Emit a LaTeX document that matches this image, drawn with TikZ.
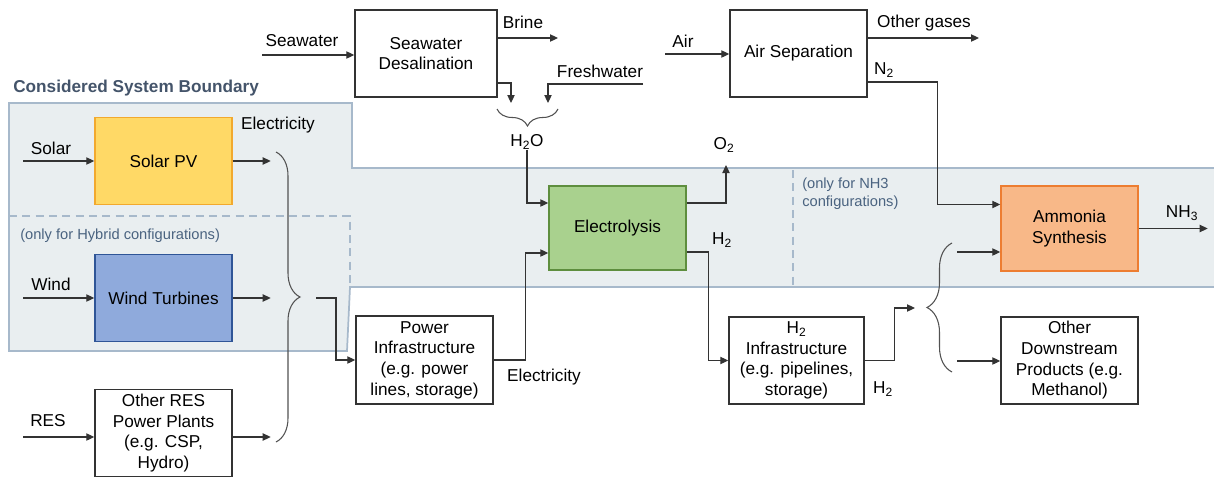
\documentclass[tikz,border=0pt]{standalone}
\usepackage{fontspec}
\setmainfont{Liberation Sans}
\usetikzlibrary{arrows.meta,calc,decorations.pathreplacing}
\newcommand\dfont{\fontsize{12.9}{15.5}\selectfont}
\newcommand\sfont{\fontsize{11}{13.5}\selectfont}
\definecolor{bandfill}{HTML}{E9EEF0}
\definecolor{bandline}{HTML}{A7B9CB}
\definecolor{slate}{HTML}{44546A}
\definecolor{notec}{HTML}{4A6380}
\definecolor{solarfill}{HTML}{FFD966}
\definecolor{solarline}{HTML}{F2A92E}
\definecolor{windfill}{HTML}{8FAADC}
\definecolor{windline}{HTML}{2F5597}
\definecolor{elecfill}{HTML}{A9D18E}
\definecolor{elecline}{HTML}{5E8E3E}
\definecolor{ammfill}{HTML}{F8B888}
\definecolor{ammline}{HTML}{ED7D31}
\definecolor{ink}{HTML}{333333}
\tikzset{
  box/.style={draw=ink, line width=1.1pt, minimum width=102.75pt, minimum height=65.25pt,
    align=center, inner sep=2pt, font=\dfont, text=black},
  arr/.style={draw=ink, line width=0.8pt, -{Triangle[length=6pt,width=5.5pt]}},
  lbl/.style={font=\dfont, inner sep=0pt, text=black},
  note/.style={font=\sfont, inner sep=0pt, text=notec, align=left},
  brc/.style={draw=ink!85, line width=0.8pt, decorate, decoration={brace, amplitude=#1}},
  bnd/.style={dashed, dash pattern=on 6pt off 4pt, draw=bandline, line width=1pt},
}
\begin{document}
\begin{tikzpicture}[x=0.75pt, y=-0.75pt]
\useasboundingbox (0,0) rectangle (1214,479);
% system boundary band
\draw[fill=bandfill, draw=bandline, line width=1.3pt]
  (9,103) -- (352,103) -- (352,168) -- (1216,168) -- (1216,287) -- (350,287) -- (347,351) -- (9,351) -- cycle;
\draw[bnd] (9,216) -- (350,216) -- (350,287);
\draw[bnd] (793,170) -- (793,287);
\node[anchor=west, font=\dfont\bfseries, text=slate, inner sep=0pt] (title) at (13,88) {Considered System Boundary};
\node[note, anchor=west] (hyb) at (20,236) {(only for Hybrid configurations)};
\node[note, anchor=west] (nh3note) at (802,194) {(only for NH3\\configurations)};

% boxes
\node[box, minimum width=106.5pt] (desal) at (426,53.5) {Seawater\\Desalination};
\node[box] (airsep) at (798.5,53.5) {Air Separation};
\node[box, fill=solarfill, draw=solarline] (solar) at (163.5,161) {Solar PV};
\node[box, fill=windfill, draw=windline] (wind) at (163.5,298) {Wind Turbines};
\node[box] (ores) at (163.5,433) {Other RES\\Power Plants\\(e.g. CSP,\\Hydro)};
\node[box, fill=elecfill, draw=elecline, minimum height=63pt] (elec) at (617.5,228) {Electrolysis};
\node[box, fill=ammfill, draw=ammline, minimum height=64pt] (amm) at (1069.5,228.5) {Ammonia\\Synthesis};
\node[box, minimum height=66pt] (pinf) at (424.5,360) {Power\\Infrastructure\\(e.g. power\\lines, storage)};
\node[box, minimum width=101.25pt] (h2inf) at (796.5,360.5) {H\textsubscript{2}\\Infrastructure\\(e.g. pipelines,\\storage)};
\node[box] (ods) at (1069.5,360.5) {Other\\Downstream\\Products (e.g.\\Methanol)};

% labels
\node[lbl] (lsw) at (302,41) {Seawater};
\node[lbl] (lbrine) at (523,22) {Brine};
\node[lbl] (lfw) at (600,71) {Freshwater};
\node[lbl] (h2o) at (527,142) {H\textsubscript{2}O};
\node[lbl] (lair) at (683,41) {Air};
\node[lbl] (logas) at (924,23) {Other gases};
\node[lbl] (ln2) at (884,70) {N\textsubscript{2}};
\node[lbl] (o2) at (724,145) {O\textsubscript{2}};
\node[lbl] (lh2a) at (722,240) {H\textsubscript{2}};
\node[lbl] (lnh3) at (1182,213) {NH\textsubscript{3}};
\node[lbl] (lel2) at (544,377) {Electricity};
\node[lbl] (lh2b) at (883,389) {H\textsubscript{2}};
\node[lbl] (lsolar) at (51,148) {Solar};
\node[lbl] (lwind) at (51,284) {Wind};
\node[lbl] (lres) at (48,421) {RES};
\node[lbl] (lel1) at (278,125) {Electricity};

% helper coordinates
\coordinate (swin) at (262,55);
\coordinate (brineend) at (558,38);
\coordinate (y83) at (0,83);
\coordinate (dsdown) at (511,103);
\coordinate (fwin) at (643,84);
\coordinate (fwdown) at (548,103);
\coordinate (o2end) at (726,165);
\coordinate (airin) at (665,54);
\coordinate (gasend) at (979,38);
\coordinate (y82) at (0,82);
\coordinate (solarin) at (23,161);
\coordinate (windin) at (23,298);
\coordinate (resin) at (23,437);
\coordinate (bt) at (316,298);
\coordinate (h2out) at (915,308);
\coordinate (b1) at (957,252);
\coordinate (b2) at (957,361);

% water
\draw[arr] (swin) -- (swin -| desal.west);
\draw[arr] (brineend -| desal.east) -- (brineend);
\draw[arr] (desal.east |- y83) -| (dsdown);
\draw[arr] (fwin) -| (fwdown);
\draw[brc=12.75pt] (558,109) -- (497,109);
\draw[arr] (h2o.south) |- ($(elec.west)+(0,-25)$);

% electrolysis outputs
\draw[arr] ($(elec.east)+(0,-25)$) -| (o2end);
\draw[arr] ($(elec.east)+(0,24)$) -- ++(22,0) |- (h2inf.west);

% air separation
\draw[arr] (airin) -- (airin -| airsep.west);
\draw[arr] (gasend -| airsep.east) -- (gasend);
\draw[arr] (airsep.east |- y82) -- ++(70,0) |- ($(amm.west)+(0,-24)$);
\draw[arr] (amm.east) -- ++(69,0);

% renewables
\draw[arr] (solarin) -- (solar.west);
\draw[arr] (windin) -- (wind.west);
\draw[arr] (resin) -- (resin -| ores.west);
\draw[arr] (solar.east) -- ++(38,0);
\draw[arr] (wind.east) -- ++(38,0);
\draw[arr] (ores.east |- resin) -- ++(38,0);
\draw[brc=18pt] (276,152) -- (276,442);
\draw[arr] (bt) -- ++(20,0) |- (pinf.west);
\draw[arr] (pinf.east) -- ++(32,0) |- ($(elec.west)+(0,25)$);

% hydrogen distribution
\draw[arr] (h2inf.east) -- ++(30,0) |- (h2out);
\draw[brc=18.75pt] (952,372) -- (952,243);
\draw[arr] (b1) -- (b1 -| amm.west);
\draw[arr] (b2) -- (b2 -| ods.west);
\end{tikzpicture}
\end{document}
